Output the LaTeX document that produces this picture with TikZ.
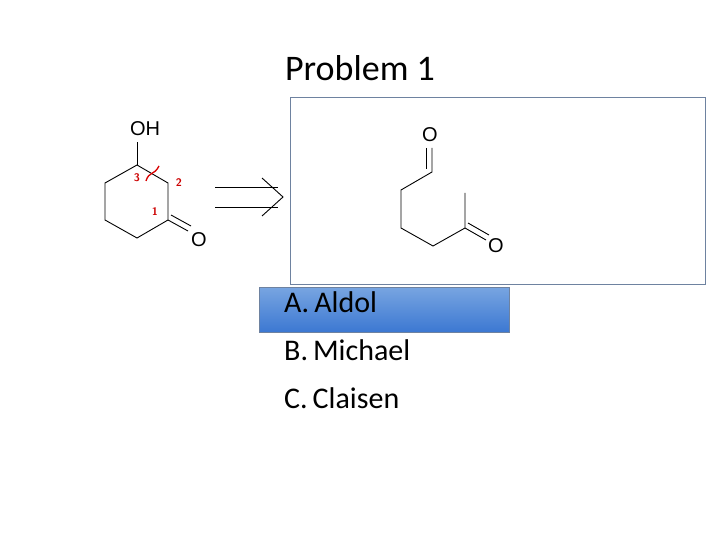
\documentclass[tikz,border=0pt]{standalone}
\usepackage{fontspec}
\setmainfont{Carlito}
\newfontfamily\chemfont{Liberation Sans}
\usetikzlibrary{positioning,calc}
\definecolor{boxline}{RGB}{110,130,160}
\definecolor{hltop}{RGB}{120,165,225}
\definecolor{hlbot}{RGB}{60,120,210}
\tikzset{
  bond/.style = {line width=0.9pt, black},
  atom/.style = {font=\chemfont\fontsize{20}{20}\selectfont, inner sep=0pt},
  num/.style = {font=\sffamily\bfseries\fontsize{11}{11}\selectfont, red!80!black, inner sep=0pt},
  item/.style = {font=\fontsize{30}{30}\selectfont, anchor=west, inner sep=0pt}
}
\begin{document}
\begin{tikzpicture}[x=1pt,y=-1pt]
\useasboundingbox (0,0) rectangle (720,540);
\node[font=\fontsize{36}{36}\selectfont] (title) at (360,68) {Problem 1};
% cyclohexanone ring
\coordinate (c3) at (137,165);
\coordinate (c2) at (168,183);
\coordinate (c1) at (168,220);
\coordinate (c6) at (137,238);
\coordinate (c5) at (105,220);
\coordinate (c4) at (105,183);
\draw[bond] (c3) -- (c2) -- (c1) -- (c6) -- (c5) -- (c4) -- cycle;
\node[atom] (oh) at (145,129) {OH};
\draw[bond] (c3) -- (137,142);
\node[atom] (o1) at (199,240) {O};
\draw[bond] (c1) -- (188,231);
\draw[bond] ($(c1)+(3,-5)$) -- (191,226);
\node[num] (n3) at (137,178) {3};
\node[num] (n2) at (179,183) {2};
\node[num] (n1) at (155,212) {1};
\draw[red!85!black, line width=1.3pt] (146,181) .. controls (149,171) and (154,176) .. (159,166);
% retro arrow
\coordinate (ra) at (215,187);
\coordinate (rb) at (215,207);
\draw[bond] (ra) -- (278,187);
\draw[bond] (rb) -- (278,207);
\draw[bond] (262,178) -- (283,197) -- (262,216);
% answer box
\draw[boxline, line width=0.8pt] (290,97) rectangle (705,284);
\node[atom] (o2) at (430,135) {O};
\coordinate (d1) at (432,172);
\coordinate (d2) at (401,190);
\coordinate (d3) at (401,228);
\coordinate (d4) at (433,246);
\coordinate (d5) at (465,228);
\draw[bond] (432,148) -- (d1) -- (d2) -- (d3) -- (d4) -- (d5) -- (465,193);
\draw[bond] (426,148) -- (426,169);
\node[atom] (o3) at (496,246) {O};
\draw[bond] (d5) -- (486,240);
\draw[bond] (468,223) -- (489,235);
% choices
\shade[top color=hltop, bottom color=hlbot, draw=boxline] (259,287) rectangle (509,332);
\node[item] (ca) at (284,302) {A.\,Aldol};
\node[item] (cb) at (284,350) {B.\,Michael};
\node[item] (cc) at (284,398) {C.\,Claisen};
\end{tikzpicture}
\end{document}
